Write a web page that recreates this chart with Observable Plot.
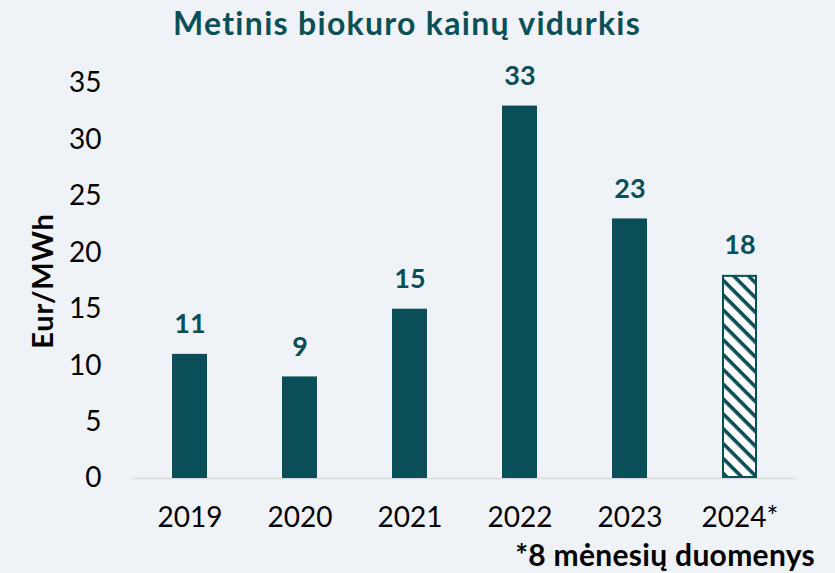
<!DOCTYPE html>
<html>
<head>
<meta charset="utf-8">
<script src="https://cdn.jsdelivr.net/npm/d3@7"></script>
<script src="https://cdn.jsdelivr.net/npm/@observablehq/plot@0.6"></script>
<style>
  html, body { margin: 0; padding: 0; background: #eff3f7; }
  #wrap { position: relative; width: 835px; height: 573px; overflow: hidden; font-family: Lato, sans-serif; }
  #title { position: absolute; left: 0; width: 814px; top: 3px; text-align: center; font-weight: 700; font-size: 32px; letter-spacing: 1.3px; color: #0b5057; }
  #note { position: absolute; right: 20px; top: 536px; font-weight: 700; font-size: 30px; letter-spacing: 0.3px; color: #000; }
  svg { position: absolute; left: 0; top: 0; background: transparent; }
</style>
</head>
<body>
<div id="wrap">
  <div id="title">Metinis biokuro kainų vidurkis</div>
  <div id="chart"></div>
  <div id="note">*8 mėnesių duomenys</div>
</div>
<script>
const years = ["2019", "2020", "2021", "2022", "2023", "2024*"];
const prices = [11, 9, 15, 33, 23, 18];
const partialYears = ["2024*"];
const yTicks = [0, 5, 10, 15, 20, 25, 30, 35];
const yLabel = "Eur/MWh";

const data = years.map((year, i) => ({ year, price: prices[i], partial: partialYears.includes(year) }));
const teal = "#0a4f57";

const hatchDefs = () => {
  const ns = "http://www.w3.org/2000/svg";
  const defs = document.createElementNS(ns, "defs");
  const pat = document.createElementNS(ns, "pattern");
  pat.setAttribute("id", "hatch");
  pat.setAttribute("patternUnits", "userSpaceOnUse");
  pat.setAttribute("width", "10.5");
  pat.setAttribute("height", "10.5");
  pat.setAttribute("patternTransform", "rotate(45)");
  const bg = document.createElementNS(ns, "rect");
  bg.setAttribute("width", "10.5"); bg.setAttribute("height", "10.5"); bg.setAttribute("fill", "#ffffff");
  const st = document.createElementNS(ns, "rect");
  st.setAttribute("width", "10.5"); st.setAttribute("height", "3.6"); st.setAttribute("fill", teal);
  pat.appendChild(bg); pat.appendChild(st);
  defs.appendChild(pat);
  return defs;
};

const chart = Plot.plot({
  width: 835,
  height: 573,
  marginLeft: 132,
  marginRight: 39,
  marginTop: 83,
  marginBottom: 95,
  style: { background: "transparent", fontFamily: "Lato, sans-serif", color: "#000" },
  x: { domain: years, paddingInner: 0.684, paddingOuter: 0.342, label: null },
  y: { domain: [0, 35], label: null },
  marks: [
    hatchDefs,
    Plot.ruleY([0], { stroke: "#d9d9d9", strokeWidth: 1.5 }),
    Plot.barY(data.filter(d => !d.partial), { x: "year", y: "price", fill: teal }),
    Plot.barY(data.filter(d => d.partial), { x: "year", y: "price", fill: "url(#hatch)", stroke: teal, strokeWidth: 2, inset: 1 }),
    Plot.text(data, { x: "year", y: "price", text: d => String(d.price), dy: -21, lineAnchor: "bottom", fill: teal, fontWeight: 700, fontSize: 27 }),
    Plot.axisY({ ticks: yTicks, tickSize: 0, tickPadding: 31, fontSize: 28, label: null }),
    Plot.axisX({ tickSize: 0, tickPadding: 29, fontSize: 28, label: null }),
    Plot.text([yLabel], { text: d => d, frameAnchor: "left", textAnchor: "middle", rotate: -90, dx: -89, fontWeight: 700, fontSize: 29, fill: "#000" })
  ]
});
chart.querySelectorAll("text").forEach(t => { if (t.textContent === yLabel) t.style.letterSpacing = "0.8px"; });
document.getElementById("chart").appendChild(chart);
</script>
</body>
</html>
